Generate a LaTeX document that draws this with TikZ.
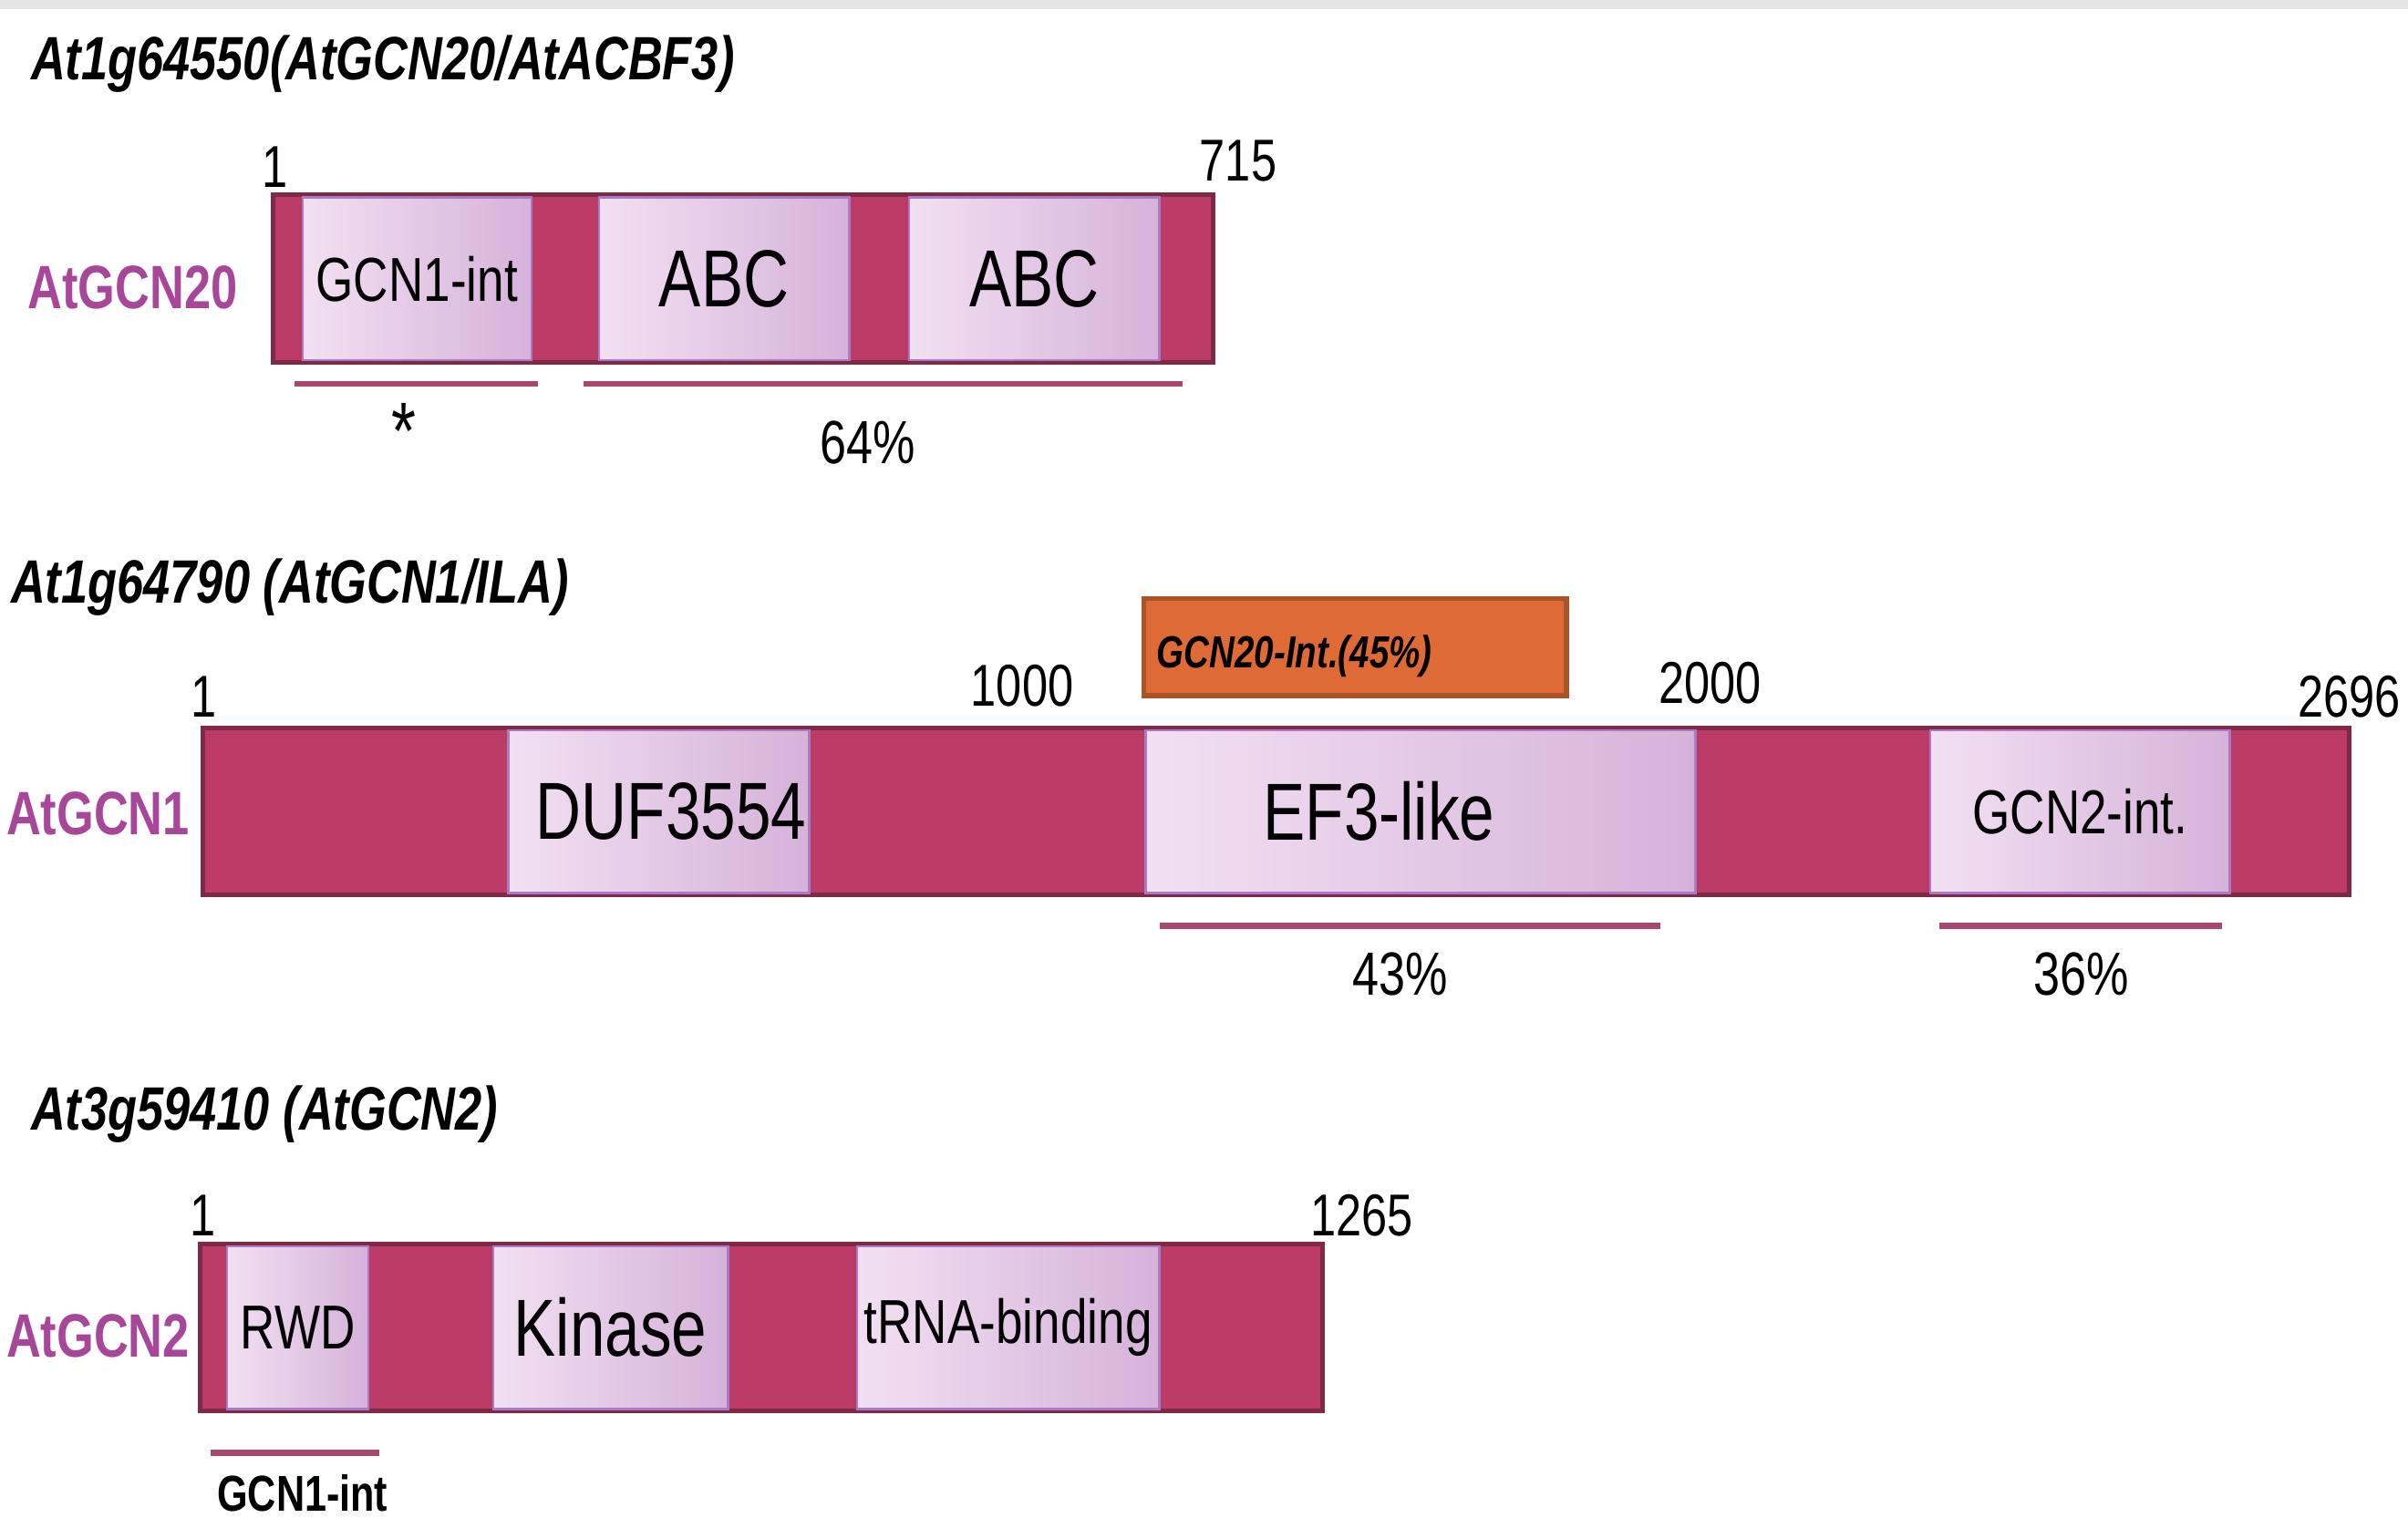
\documentclass[tikz,border=0pt]{standalone}
\usepackage{fontspec}
\setmainfont[FakeStretch=0.78]{Liberation Sans}

\definecolor{barra}{HTML}{BB3B66}
\definecolor{barraborda}{HTML}{7E2A45}
\definecolor{dominioclaro}{HTML}{F2E0F2}
\definecolor{dominioescuro}{HTML}{D6B2DA}
\definecolor{dominioborda}{HTML}{A97BC6}
\definecolor{laranja}{HTML}{DE6B35}
\definecolor{laranjaborda}{HTML}{A8552A}
\definecolor{rotulo}{HTML}{A8479A}
\definecolor{traco}{HTML}{A9476F}

\tikzset{
  barra/.style={draw=barraborda, fill=barra, line width=0.06cm, minimum height=2.18cm, inner sep=0pt, outer sep=0pt},
  dominio/.style={draw=dominioborda, line width=0.8pt, left color=dominioclaro, right color=dominioescuro, minimum height=2.12cm, inner sep=0pt, outer sep=0pt},
  dompeq/.style={font=\fontsize{23}{23}\selectfont},
  domgr/.style={font=\fontsize{30}{30}\selectfont},
  titulo/.style={anchor=base west, font=\fontsize{22.7}{26}\selectfont\bfseries\itshape},
  nome/.style={anchor=west, text=rotulo, font=\fontsize{22.7}{26}\selectfont\bfseries},
  numero/.style={font=\fontsize{21.9}{24}\selectfont},
  pct/.style={font=\fontsize{22.6}{24}\selectfont},
  traco/.style={draw=traco, line width=0.08cm}
}

\begin{document}
\begin{tikzpicture}[x=0.02cm, y=-0.02cm]
\useasboundingbox (0,0) rectangle (1568,988);
\fill[black!10] (0,0) rectangle (1568,6);

% Proteína 1: AtGCN20
\node[titulo] (tit20) at (14,52) {At1g64550(AtGCN20/AtACBF3)};
\node[nome] (nome20) at (12,187) {AtGCN20};
\node[barra, minimum width=12.24cm] (gcn20) at (484,181.5) {};
\node[dominio, dompeq, minimum width=2.98cm] (gcn1int) at (271.5,181.5) {GCN1-int};
\node[dominio, domgr, minimum width=3.26cm] (abc1) at (471.5,181.5) {ABC};
\node[dominio, domgr, minimum width=3.26cm] (abc2) at (673.5,181.5) {ABC};
\node[numero, anchor=base] (ini20) at (179,122) {1};
\node[numero, anchor=base west] (fim20) at (775,118) {715};
\coordinate (a1) at (192,250); \coordinate (a2) at (350,250);
\coordinate (b1) at (380,250); \coordinate (b2) at (770,250);
\draw[traco] (a1) -- (a2);
\draw[traco] (b1) -- (b2);
\node[font=\fontsize{30}{30}\selectfont] (ast) at (263,281) {*};
\node[pct, anchor=base] (p64) at (565,302) {64\%};

% Proteína 2: AtGCN1
\node[titulo] (tit1) at (1,393) {At1g64790 (AtGCN1/ILA)};
\node[draw=laranjaborda, fill=laranja, line width=0.06cm, minimum width=5.5cm, minimum height=1.26cm, inner sep=0pt] (int20) at (882.5,421.5) {};
\node[anchor=base west, font=\fontsize{16.7}{18}\selectfont\bfseries\itshape] (int20txt) at (747,435) {GCN20-Int.(45\%)};
\node[nome] (nome1) at (-2,530) {AtGCN1};
\node[barra, minimum width=27.96cm] (gcn1) at (831,528.5) {};
\node[dominio, minimum width=3.92cm] (duf) at (429,528.5) {};
\node[domgr] (duftxt) at (437,528.5) {DUF3554};
\node[dominio, minimum width=7.16cm] (ef3) at (925,528.5) {};
\node[domgr] (ef3txt) at (898,528.5) {EF3-like};
\node[dominio, dompeq, minimum width=3.9cm] (gcn2int) at (1354.5,528.5) {GCN2-int.};
\node[numero, anchor=base] (ini1) at (133,467) {1};
\node[numero, anchor=base west] (m1000) at (626,460) {1000};
\node[numero, anchor=base west] (m2000) at (1074,458) {2000};
\node[numero, anchor=base west] (fim1) at (1490,467) {2696};
\coordinate (c1) at (755,603); \coordinate (c2) at (1081,603);
\coordinate (d1) at (1263,603); \coordinate (d2) at (1447,603);
\draw[traco] (c1) -- (c2);
\draw[traco] (d1) -- (d2);
\node[pct, anchor=base] (p43) at (912,648) {43\%};
\node[pct, anchor=base] (p36) at (1355,648) {36\%};

% Proteína 3: AtGCN2
\node[titulo] (tit2) at (14,736) {At3g59410 (AtGCN2)};
\node[nome] (nome2) at (-2,870) {AtGCN2};
\node[barra, minimum width=14.62cm] (gcn2) at (495.5,864.5) {};
\node[dominio, dompeq, minimum width=1.84cm] (rwd) at (194,864.5) {RWD};
\node[dominio, domgr, minimum width=3.06cm] (kin) at (397.5,864.5) {Kinase};
\node[dominio, dompeq, minimum width=3.94cm] (trna) at (656.5,864.5) {tRNA-binding};
\node[numero, anchor=base] (ini2) at (132,805) {1};
\node[numero, anchor=base west] (fim2) at (847,805) {1265};
\coordinate (e1) at (137,946); \coordinate (e2) at (247,946);
\draw[traco] (e1) -- (e2);
\node[anchor=base, font=\fontsize{18.7}{20}\selectfont\bfseries] (g1int) at (197,984) {GCN1-int};

\end{tikzpicture}
\end{document}
